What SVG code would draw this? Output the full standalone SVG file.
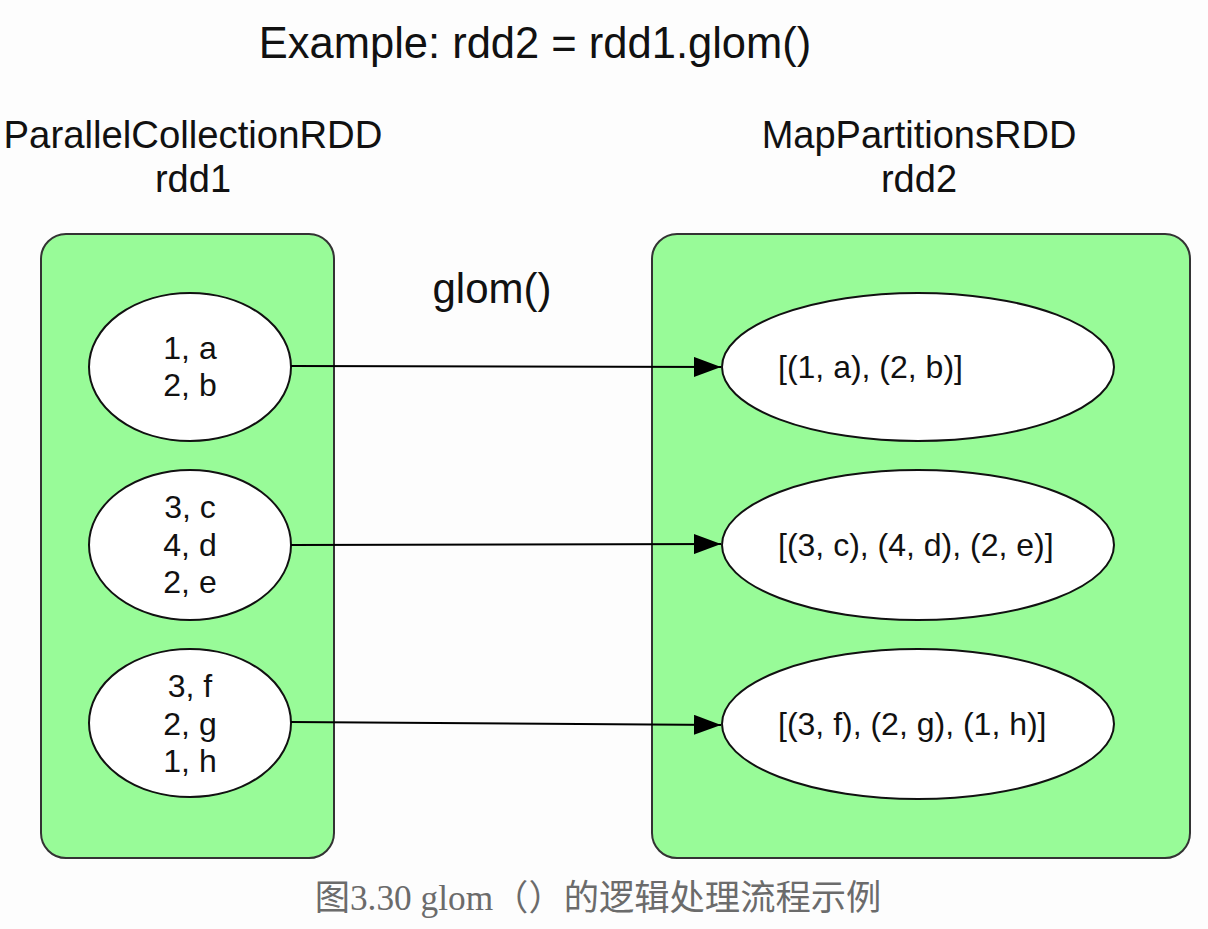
<svg xmlns="http://www.w3.org/2000/svg" width="1208" height="929" viewBox="0 0 1208 929">
<style>
.t{font-family:"Liberation Sans",Arial,sans-serif;fill:#111;}
.box{fill:#98fb98;stroke:#333;stroke-width:2;}
.el{fill:#fff;stroke:#111;stroke-width:2;}
.c{stroke:#000;stroke-width:2;fill:none;}
.lab{font-size:32px;}
</style>
<defs>
<marker id="ah" markerWidth="27" markerHeight="20" refX="27" refY="10" orient="auto" markerUnits="userSpaceOnUse">
<path d="M0,0 L27,10 L0,20 Z" fill="#000"/>
</marker>
</defs>
<rect width="1208" height="929" fill="#fdfdfd"/>
<text class="t" x="535" y="58" font-size="43.5" text-anchor="middle">Example: rdd2 = rdd1.glom()</text>
<g id="rdd1">
<text class="t" x="193" y="148" font-size="38.3" text-anchor="middle">ParallelCollectionRDD</text>
<text class="t" x="193" y="192" font-size="38" text-anchor="middle">rdd1</text>
<rect class="box" x="41" y="234" width="293" height="624" rx="25" ry="25"/>
</g>
<g id="rdd2">
<text class="t" x="919" y="148" font-size="38" text-anchor="middle">MapPartitionsRDD</text>
<text class="t" x="919" y="192" font-size="38" text-anchor="middle">rdd2</text>
<rect class="box" x="652" y="234" width="538" height="624" rx="25" ry="25"/>
</g>
<text class="t" x="492" y="303" font-size="42" text-anchor="middle">glom()</text>
<g id="p1">
<ellipse class="el" cx="190" cy="367" rx="101" ry="74"/>
<text class="t lab" x="190" y="359" text-anchor="middle">1, a</text>
<text class="t lab" x="190" y="396" text-anchor="middle">2, b</text>
</g>
<g id="p2">
<ellipse class="el" cx="190" cy="545" rx="101" ry="75"/>
<text class="t lab" x="190" y="518" text-anchor="middle">3, c</text>
<text class="t lab" x="190" y="556" text-anchor="middle">4, d</text>
<text class="t lab" x="190" y="593" text-anchor="middle">2, e</text>
</g>
<g id="p3">
<ellipse class="el" cx="190" cy="723" rx="101" ry="74"/>
<text class="t lab" x="190" y="697" text-anchor="middle">3, f</text>
<text class="t lab" x="190" y="735" text-anchor="middle">2, g</text>
<text class="t lab" x="190" y="772" text-anchor="middle">1, h</text>
</g>
<g id="q1">
<ellipse class="el" cx="918" cy="367" rx="196" ry="74"/>
<text class="t lab" x="778" y="378">[(1, a), (2, b)]</text>
</g>
<g id="q2">
<ellipse class="el" cx="918" cy="545" rx="196" ry="75"/>
<text class="t lab" x="778" y="556">[(3, c), (4, d), (2, e)]</text>
</g>
<g id="q3">
<ellipse class="el" cx="918" cy="724" rx="196" ry="75"/>
<text class="t lab" x="778" y="735">[(3, f), (2, g), (1, h)]</text>
</g>
<g id="connectors">
<path class="c" d="M291,366 L721,367" marker-end="url(#ah)"/>
<path class="c" d="M291,545 L721,544" marker-end="url(#ah)"/>
<path class="c" d="M291,722 L721,725" marker-end="url(#ah)"/>
</g>
<text x="598" y="910" font-size="35.3" text-anchor="middle" fill="#6b6b6b" font-family="'Liberation Serif','Noto Sans CJK SC',serif">图3.30 glom（）的逻辑处理流程示例</text>
</svg>
